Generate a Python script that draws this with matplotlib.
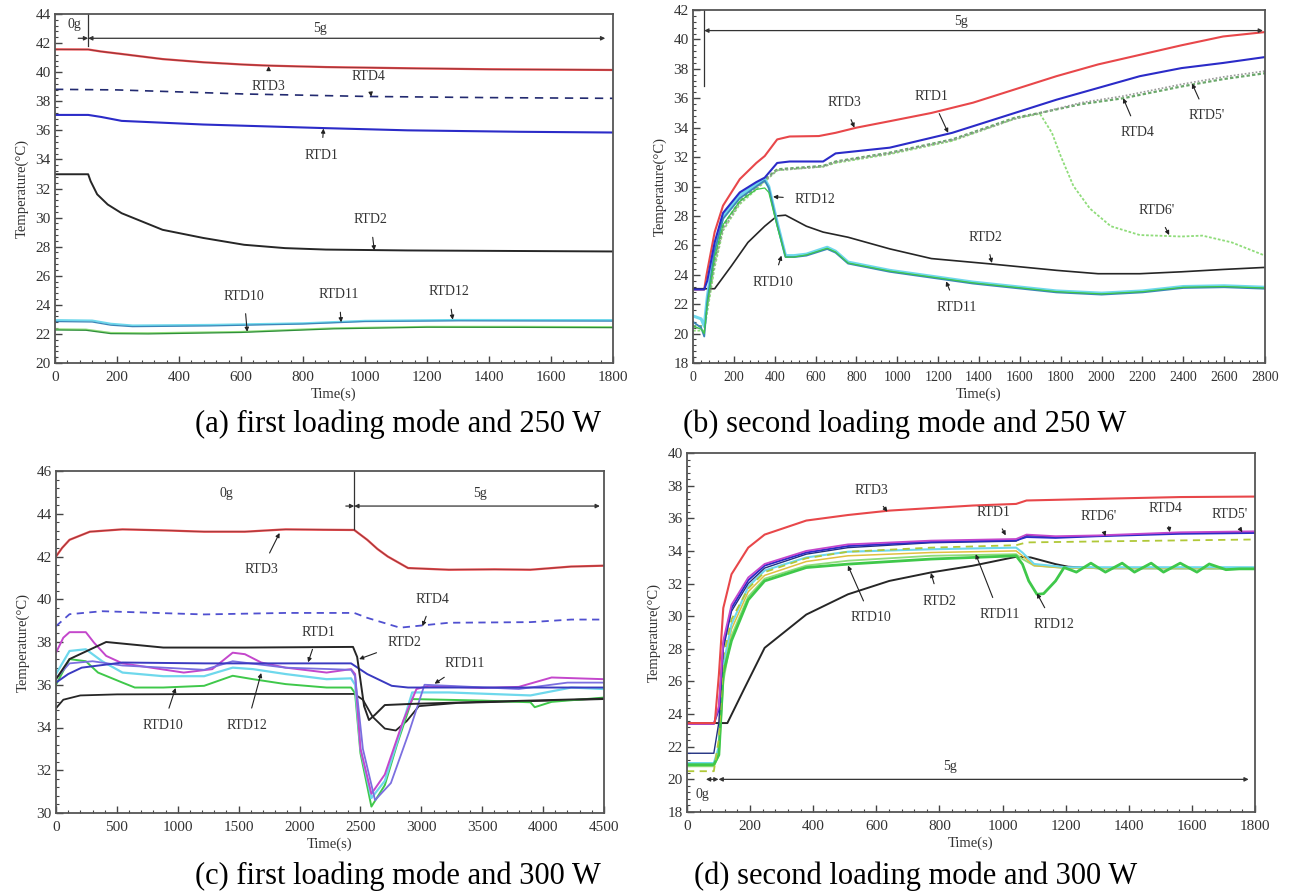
import matplotlib
matplotlib.use("Agg")
import matplotlib.pyplot as plt
from matplotlib.ticker import MultipleLocator, AutoMinorLocator

plt.rcParams['font.family'] = ['Liberation Serif', 'DejaVu Serif']

# ---------------- (a) first loading mode, 250 W ----------------
a_t_rtd3 = [0, 107, 125, 149, 215, 347, 478, 610, 689, 874, 1137, 1400, 1800]
a_rtd3 = [41.57, 41.56, 41.5, 41.42, 41.25, 40.9, 40.68, 40.52, 40.45, 40.35, 40.27, 40.2, 40.15]
a_t_rtd4 = [0, 200, 610, 1006, 1400, 1800]
a_rtd4 = [38.82, 38.78, 38.5, 38.33, 38.25, 38.2]
a_t_rtd1 = [0, 107, 149, 215, 478, 874, 1137, 1500, 1800]
a_rtd1 = [37.06, 37.06, 36.92, 36.65, 36.4, 36.15, 36.0, 35.9, 35.85]
a_t_rtd2 = [0, 107, 115, 136, 170, 215, 347, 478, 610, 742, 874, 1137, 1800]
a_rtd2 = [32.98, 32.98, 32.5, 31.6, 30.9, 30.3, 29.16, 28.6, 28.13, 27.9, 27.8, 27.74, 27.67]
a_t_low = [0, 120, 180, 250, 500, 800, 1000, 1300, 1800]
a_rtd12 = [22.95, 22.92, 22.7, 22.58, 22.62, 22.73, 22.9, 22.96, 22.95]
a_rtd11 = [22.85, 22.82, 22.6, 22.5, 22.55, 22.68, 22.85, 22.9, 22.88]
a_t_rtd10 = [0, 100, 180, 300, 600, 900, 1200, 1500, 1800]
a_rtd10 = [22.27, 22.25, 22.02, 22.0, 22.1, 22.35, 22.46, 22.45, 22.43]
a_rtd10b = [22.33, 22.31, 22.08, 22.06, 22.15, 22.4, 22.5, 22.5, 22.48]

# ---------------- (b) second loading mode, 250 W ----------------
b_t_rtd3 = [0, 55, 65, 106, 147, 229, 310, 351, 412, 473, 616, 698, 800, 963, 1167,
            1371, 1575, 1779, 1983, 2187, 2391, 2595, 2800]
b_rtd3 = [23.0, 23.0, 23.9, 26.9, 28.7, 30.5, 31.6, 32.07, 33.2, 33.4, 33.43, 33.65, 34.0,
          34.44, 35.0, 35.7, 36.6, 37.5, 38.3, 38.95, 39.6, 40.2, 40.5]
b_t_rtd1 = [0, 55, 70, 106, 147, 229, 310, 351, 412, 473, 637, 698, 963, 1269, 1575,
            1779, 1983, 2187, 2391, 2595, 2800]
b_rtd1 = [23.0, 23.0, 23.6, 26.2, 28.2, 29.6, 30.3, 30.6, 31.6, 31.7, 31.7, 32.25, 32.64,
          33.65, 35.0, 35.9, 36.7, 37.5, 38.05, 38.4, 38.8]
b_t_rtd4 = [0, 55, 70, 106, 147, 229, 310, 412, 637, 698, 963, 1269, 1575, 1698, 1900,
            2106, 2391, 2595, 2800]
b_rtd4 = [20.5, 20.5, 22.0, 25.0, 27.3, 29.0, 30.0, 31.17, 31.4, 31.7, 32.3, 33.2, 34.67,
          35.0, 35.6, 36.0, 36.8, 37.3, 37.7]
b_rtd5 = [20.4, 20.4, 21.8, 24.8, 27.1, 28.9, 29.9, 31.1, 31.35, 31.65, 32.25, 33.15, 34.6,
          35.0, 35.7, 36.15, 36.95, 37.45, 37.85]
b_t_rtd6 = [0, 55, 70, 106, 147, 229, 310, 412, 637, 698, 963, 1269, 1575, 1698, 1757,
            1800, 1862, 1943, 2045, 2187, 2391, 2494, 2637, 2800]
b_rtd6 = [20.2, 20.2, 21.5, 24.5, 27.0, 28.8, 29.8, 31.1, 31.35, 31.6, 32.2, 33.1, 34.6,
          34.95, 33.65, 32.07, 30.04, 28.5, 27.3, 26.7, 26.6, 26.66, 26.2, 25.3]
b_t_rtd2 = [0, 106, 188, 269, 351, 412, 453, 555, 637, 759, 963, 1167, 1453, 1779, 1983,
            2187, 2391, 2595, 2800]
b_rtd2 = [23.05, 23.05, 24.6, 26.2, 27.3, 28.0, 28.05, 27.3, 26.9, 26.55, 25.76, 25.1,
          24.74, 24.3, 24.07, 24.07, 24.2, 24.36, 24.5]
b_t_rtd11 = [0, 40, 55, 70, 106, 147, 229, 310, 351, 371, 412, 453, 494, 555, 657, 698,
             759, 963, 1371, 1779, 2000, 2200, 2400, 2600, 2800]
b_rtd11 = [21.2, 21.0, 20.5, 22.5, 25.8, 28.0, 29.4, 30.15, 30.5, 30.0, 27.56, 25.3, 25.3,
           25.4, 25.87, 25.6, 24.86, 24.3, 23.5, 22.9, 22.75, 22.9, 23.2, 23.25, 23.15]
b_rtd10 = [20.8, 20.4, 19.8, 22.2, 25.6, 27.8, 29.2, 30.0, 30.4, 29.9, 27.4, 25.2, 25.2,
           25.3, 25.75, 25.5, 24.76, 24.2, 23.4, 22.8, 22.65, 22.8, 23.1, 23.15, 23.05]
b_rtd12 = [20.5, 20.3, 20.0, 22.0, 25.2, 27.4, 29.0, 29.8, 29.9, 29.6, 27.3, 25.2, 25.2,
           25.35, 25.8, 25.55, 24.8, 24.25, 23.45, 22.85, 22.7, 22.85, 23.15, 23.2, 23.1]

# ---------------- (c) first loading mode, 300 W ----------------
c_t_rtd3 = [0, 50, 111, 278, 546, 900, 1216, 1551, 1886, 2200, 2449, 2556, 2640, 2724,
            2891, 3226, 3600, 3896, 4231, 4500]
c_rtd3 = [42.0, 42.4, 42.78, 43.16, 43.27, 43.22, 43.16, 43.16, 43.27, 43.25, 43.24, 42.78,
          42.35, 42.0, 41.46, 41.38, 41.4, 41.38, 41.53, 41.57]
c_t_rtd4 = [0, 111, 379, 1216, 1886, 2449, 2556, 2824, 3226, 3896, 4231, 4500]
c_rtd4 = [38.74, 39.3, 39.44, 39.29, 39.36, 39.36, 39.13, 38.67, 38.9, 38.93, 39.05, 39.05]
c_t_rtd1 = [0, 100, 211, 546, 1216, 2423, 2556, 2757, 2891, 3226, 4500]
c_rtd1 = [36.1, 36.5, 36.8, 37.04, 37.0, 37.0, 36.5, 35.95, 35.87, 35.87, 35.87]
c_t_rtd2 = [0, 111, 412, 881, 1551, 2439, 2473, 2530, 2570, 2620, 2700, 2900, 3500, 4500]
c_rtd2 = [36.26, 37.2, 38.0, 37.74, 37.74, 37.77, 37.3, 35.0, 34.35, 34.6, 35.05, 35.1,
          35.2, 35.35]
c_t_base = [0, 60, 200, 500, 1500, 2449, 2520, 2600, 2700, 2790, 2880, 2980, 3300, 4000, 4500]
c_base = [34.9, 35.3, 35.5, 35.55, 35.57, 35.57, 35.3, 34.5, 33.95, 33.86, 34.3, 35.0,
          35.15, 35.25, 35.33]
c_t_mag = [0, 60, 111, 245, 312, 412, 546, 1049, 1283, 1451, 1551, 1685, 1886, 2222, 2423,
           2456, 2500, 2590, 2700, 2850, 2960, 3060, 3500, 3800, 4070, 4500]
c_mag = [37.5, 38.2, 38.46, 38.46, 37.97, 37.35, 37.0, 36.57, 36.73, 37.5, 37.43, 37.04,
         36.8, 36.57, 36.73, 36.5, 33.0, 30.9, 31.8, 34.3, 35.8, 35.95, 35.85, 35.9, 36.34, 36.26]
c_t_cyan = [0, 111, 245, 379, 546, 881, 1216, 1451, 1618, 1886, 2222, 2423, 2456, 2500,
            2590, 2700, 2800, 2925, 3226, 3896, 4231, 4500]
c_cyan = [36.5, 37.58, 37.66, 37.1, 36.57, 36.4, 36.4, 36.8, 36.73, 36.5, 36.26, 36.3,
          36.0, 33.0, 30.7, 31.5, 33.3, 35.64, 35.64, 35.5, 35.87, 35.8]
c_t_green = [0, 111, 245, 345, 546, 647, 881, 1216, 1451, 1618, 1886, 2222, 2423, 2456,
             2500, 2590, 2700, 2800, 2925, 3500, 3896, 3931, 4070, 4500]
c_green = [36.0, 37.2, 37.1, 36.57, 36.1, 35.87, 35.87, 35.95, 36.42, 36.26, 36.03, 35.87,
           35.87, 35.6, 32.8, 30.3, 31.3, 33.2, 35.33, 35.26, 35.18, 34.95, 35.2, 35.4]
c_t_rtd11 = [0, 111, 300, 546, 1216, 1451, 1886, 2423, 2456, 2520, 2620, 2750, 2900, 3026,
             3226, 3800, 4200, 4500]
c_rtd11 = [36.3, 37.0, 37.1, 36.9, 36.7, 37.1, 36.8, 36.7, 36.4, 33.0, 30.6, 31.4, 33.8,
           36.0, 35.95, 35.8, 36.1, 36.1]

# ---------------- (d) second loading mode, 300 W ----------------
d_t_rtd3 = [0, 88, 101, 115, 141, 194, 246, 378, 510, 641, 905, 1043, 1076, 1300, 1563, 1800]
d_rtd3 = [23.45, 23.45, 26.4, 30.5, 32.57, 34.2, 35.0, 35.86, 36.2, 36.47, 36.78, 36.88,
          37.09, 37.19, 37.3, 37.33]
d_t_rtd2 = [0, 128, 180, 246, 378, 510, 641, 773, 905, 1043, 1089, 1168, 1208, 1300, 1800]
d_rtd2 = [23.45, 23.45, 25.5, 28.06, 30.1, 31.34, 32.16, 32.68, 33.09, 33.64, 33.6, 33.19,
          33.03, 32.94, 32.94]
d_t_up = [0, 85, 101, 115, 141, 194, 246, 378, 510, 773, 1043, 1076, 1168, 1300, 1563, 1800]
d_rtd1 = [23.4, 23.4, 24.5, 28.5, 30.7, 32.37, 33.2, 34.0, 34.4, 34.63, 34.73, 35.0, 34.9,
          34.95, 35.14, 35.2]
d_rtd4 = [23.4, 23.4, 24.3, 28.3, 30.5, 32.2, 33.1, 33.9, 34.3, 34.55, 34.65, 34.85, 34.8,
          34.9, 35.05, 35.1]
d_rtd5 = [21.6, 21.6, 23.5, 28.0, 30.3, 32.0, 32.95, 33.8, 34.2, 34.5, 34.6, 34.95, 34.85,
          34.92, 35.1, 35.15]
d_t_rtd6 = [0, 85, 101, 115, 141, 194, 246, 378, 510, 773, 1043, 1076, 1300, 1800]
d_rtd6 = [20.5, 20.5, 22.5, 27.5, 29.8, 31.7, 32.7, 33.55, 33.95, 34.2, 34.35, 34.52, 34.58, 34.7]
d_t_low = [0, 85, 101, 115, 141, 194, 246, 378, 510, 773, 1043, 1063, 1100, 1200, 1800]
d_rtd11 = [21.0, 21.0, 22.0, 27.0, 29.5, 31.8, 32.8, 33.6, 33.95, 34.1, 34.2, 33.9, 33.2,
           33.0, 33.0]
d_yellow = [20.9, 20.9, 21.8, 26.8, 29.2, 31.5, 32.5, 33.35, 33.7, 33.9, 34.0, 33.7, 33.1,
            32.95, 32.95]
d_rtd10 = [20.8, 20.8, 21.5, 26.0, 28.8, 31.2, 32.3, 33.1, 33.4, 33.7, 33.8, 33.5, 33.1,
           32.95, 32.9]
d_t_rtd12 = [0, 85, 101, 115, 141, 194, 246, 378, 510, 773, 1043, 1063, 1083, 1109, 1130,
             1168, 1195, 1234, 1280, 1326, 1379, 1418, 1471, 1510, 1563, 1616, 1655, 1708,
             1750, 1800]
d_rtd12 = [20.9, 20.9, 21.5, 26.5, 28.5, 31.0, 32.16, 32.98, 33.19, 33.5, 33.7, 33.19,
           32.16, 31.34, 31.38, 32.16, 32.98, 32.7, 33.25, 32.7, 33.25, 32.7, 33.25, 32.7,
           33.25, 32.7, 33.2, 32.85, 32.9, 32.9]

RED = '#e8474a'
BLUE = '#2b2bc8'
BLACK = '#262626'
CYAN = '#6ed8ec'
TEAL = '#3b86b8'
GREEN = '#3fc84a'
LGREEN = '#8fdc7a'
MAG = '#c447cc'
LAV = '#7b6fe0'

fig = plt.figure(figsize=(12.9, 8.92), dpi=100)
W, H = 1290.0, 892.0


def box(l, t, r, b):
    return [l / W, 1 - b / H, (r - l) / W, (b - t) / H]


def frame(ax, xmax, xstep, ymin, ymax, xsize=11):
    ax.set_xlim(0, xmax)
    ax.set_ylim(ymin, ymax)
    ax.xaxis.set_major_locator(MultipleLocator(xstep))
    ax.yaxis.set_major_locator(MultipleLocator(2))
    ax.xaxis.set_minor_locator(AutoMinorLocator(5))
    ax.yaxis.set_minor_locator(AutoMinorLocator(5))
    ax.tick_params(which='both', direction='in', top=False, right=False,
                   colors='#444', labelcolor='#333')
    ax.tick_params(axis='x', labelsize=xsize, pad=6)
    ax.tick_params(axis='y', labelsize=11, pad=3)
    ax.tick_params(which='major', length=5, width=1)
    ax.tick_params(which='minor', length=2.5, width=0.8)
    for s in ax.spines.values():
        s.set_color('#555')
        s.set_linewidth(1.3)
    ax.set_xlabel('Time(s)', fontsize=10.5, color='#333', labelpad=2)
    ax.set_ylabel('Temperature(\u00b0C)', fontsize=10.5, color='#333', labelpad=5)


def tag(ax, text, xy, xytext):
    ax.annotate(text, xy=xy, xytext=xytext, ha='center', va='center',
                fontsize=10, color='#333',
                arrowprops=dict(arrowstyle='-|>', color='#222', lw=0.8,
                                mutation_scale=6, shrinkA=6, shrinkB=0))


def arrow(ax, x0, x1, y, style='<|-|>'):
    ax.annotate('', xy=(x1, y), xytext=(x0, y),
                arrowprops=dict(arrowstyle=style, color='#333', lw=0.9,
                                mutation_scale=6, shrinkA=0, shrinkB=0))


# (a)
ax = fig.add_axes(box(55, 14, 613, 363))
frame(ax, 1800, 200, 20, 44)
ax.plot(a_t_rtd3, a_rtd3, color=RED, lw=1.6)
ax.plot(a_t_rtd3, a_rtd3, color=BLACK, lw=0.5, alpha=0.6)
ax.plot(a_t_rtd4, a_rtd4, color='#222a70', lw=1.2, ls=(0, (5, 4)))
ax.plot(a_t_rtd1, a_rtd1, color=BLUE, lw=1.5)
ax.plot(a_t_rtd2, a_rtd2, color=BLACK, lw=1.4)
ax.plot(a_t_low, a_rtd12, color=CYAN, lw=1.5)
ax.plot(a_t_low, a_rtd11, color=TEAL, lw=0.9)
ax.plot(a_t_rtd10, a_rtd10b, color=LGREEN, lw=1.2)
ax.plot(a_t_rtd10, a_rtd10, color='#2f8f3a', lw=0.9)
ax.axvline(107, ymin=(41.8 - 20) / 24, ymax=1, color='#333', lw=0.9)
arrow(ax, 75, 107, 42.33, '-|>')
arrow(ax, 107, 1775, 42.33)
ax.text(63, 43.25, '0g', fontsize=10, color='#333', ha='center', va='center')
ax.text(854, 43.0, '5g', fontsize=10, color='#333', ha='center', va='center')
tag(ax, 'RTD3', (689, 40.42), (689, 39.0))
tag(ax, 'RTD4', (1020, 38.32), (1012, 39.7))
tag(ax, 'RTD1', (866, 36.12), (860, 34.3))
tag(ax, 'RTD2', (1030, 27.75), (1018, 29.85))
tag(ax, 'RTD10', (620, 22.15), (610, 24.6))
tag(ax, 'RTD11', (923, 22.8), (916, 24.7))
tag(ax, 'RTD12', (1283, 22.98), (1270, 24.9))

# (b)
ax = fig.add_axes(box(693, 10, 1265, 363))
frame(ax, 2800, 200, 18, 42, xsize=10)
ax.plot(b_t_rtd3, b_rtd3, color=RED, lw=1.5)
ax.plot(b_t_rtd2, b_rtd2, color=BLACK, lw=1.2)
ax.plot(b_t_rtd6, b_rtd6, color=LGREEN, lw=1.3, ls=(0, (1.5, 1)))
ax.plot(b_t_rtd4, b_rtd4, color='#6aa86a', lw=1.6, ls=(0, (1.5, 1)))
ax.plot(b_t_rtd4, b_rtd5, color='#9a9a9a', lw=1.2, ls=(0, (1, 1.2)))
ax.plot(b_t_rtd11, b_rtd11, color=CYAN, lw=2.2)
ax.plot(b_t_rtd11, b_rtd10, color=TEAL, lw=1.3)
ax.plot(b_t_rtd11, b_rtd12, color=GREEN, lw=0.9)
ax.plot(b_t_rtd1, b_rtd1, color=BLUE, lw=1.5)
ax.axvline(55, ymin=(36.8 - 18) / 24, ymax=1, color='#333', lw=0.9)
arrow(ax, 55, 2790, 40.6)
ax.text(1310, 41.2, '5g', fontsize=10, color='#333', ha='center', va='center')
tag(ax, 'RTD3', (790, 34.0), (739, 35.7))
tag(ax, 'RTD1', (1249, 33.65), (1167, 36.1))
tag(ax, 'RTD4', (2106, 36.0), (2178, 33.65))
tag(ax, "RTD5'", (2443, 37.0), (2514, 34.8))
tag(ax, "RTD6'", (2331, 26.7), (2270, 28.35))
tag(ax, 'RTD2', (1463, 24.8), (1433, 26.55))
tag(ax, 'RTD12', (392, 29.3), (596, 29.14))
tag(ax, 'RTD10', (433, 25.3), (392, 23.5))
tag(ax, 'RTD11', (1239, 23.55), (1290, 21.8))

# (c)
ax = fig.add_axes(box(56, 471, 604, 813))
frame(ax, 4500, 500, 30, 46)
ax.plot(c_t_rtd3, c_rtd3, color=RED, lw=1.6)
ax.plot(c_t_rtd3, c_rtd3, color=BLACK, lw=0.5, alpha=0.5)
ax.plot(c_t_rtd4, c_rtd4, color='#5050d0', lw=1.3, ls=(0, (4, 3)))
ax.plot(c_t_base, c_base, color=BLACK, lw=1.3)
ax.plot(c_t_green, c_green, color=GREEN, lw=1.4)
ax.plot(c_t_cyan, c_cyan, color=CYAN, lw=1.6)
ax.plot(c_t_mag, c_mag, color=MAG, lw=1.4)
ax.plot(c_t_rtd11, c_rtd11, color=LAV, lw=1.3)
ax.plot(c_t_rtd1, c_rtd1, color='#3a3ac0', lw=1.4)
ax.plot(c_t_rtd2, c_rtd2, color=BLACK, lw=1.4)
ax.axvline(2449, ymin=(43.3 - 30) / 16, ymax=1, color='#333', lw=0.9)
arrow(ax, 2380, 2449, 44.36, '-|>')
arrow(ax, 2449, 4466, 44.36)
ax.text(1400, 44.95, '0g', fontsize=10, color='#333', ha='center', va='center')
ax.text(3478, 44.95, '5g', fontsize=10, color='#333', ha='center', va='center')
tag(ax, 'RTD3', (1836, 43.1), (1685, 41.38))
tag(ax, 'RTD4', (3009, 38.74), (3093, 40.0))
tag(ax, 'RTD1', (2070, 37.05), (2154, 38.46))
tag(ax, 'RTD2', (2489, 37.2), (2858, 37.97))
tag(ax, 'RTD11', (3109, 36.05), (3360, 37.0))
tag(ax, 'RTD10', (982, 35.85), (881, 34.1))
tag(ax, 'RTD12', (1685, 36.55), (1568, 34.1))

# (d)
ax = fig.add_axes(box(687, 453, 1255, 812))
frame(ax, 1800, 200, 18, 40)
ax.plot(d_t_rtd2, d_rtd2, color=BLACK, lw=1.4)
ax.plot(d_t_low, d_rtd10, color=LGREEN, lw=1.3)
ax.plot(d_t_low, d_yellow, color='#e0c040', lw=1.1)
ax.plot(d_t_low, d_rtd11, color=CYAN, lw=1.5)
ax.plot(d_t_rtd12, d_rtd12, color=GREEN, lw=2.0)
ax.plot(d_t_rtd6, d_rtd6, color='#b0c838', lw=1.3, ls=(0, (4, 3)))
ax.plot(d_t_up, d_rtd5, color='#203080', lw=1.0)
ax.plot(d_t_up, d_rtd4, color=BLUE, lw=1.4)
ax.plot(d_t_up, d_rtd1, color=MAG, lw=1.3)
ax.plot(d_t_rtd3, d_rtd3, color=RED, lw=1.5)
arrow(ax, 60, 100, 20.0)
arrow(ax, 100, 1780, 20.0)
ax.text(49, 19.1, '0g', fontsize=10, color='#333', ha='center', va='center')
ax.text(832, 20.8, '5g', fontsize=10, color='#333', ha='center', va='center')
tag(ax, 'RTD3', (635, 36.4), (583, 37.7))
tag(ax, 'RTD1', (1010, 34.95), (971, 36.37))
tag(ax, "RTD6'", (1326, 34.9), (1306, 36.1))
tag(ax, 'RTD4', (1530, 35.15), (1517, 36.57))
tag(ax, "RTD5'", (1760, 35.15), (1721, 36.22))
tag(ax, 'RTD2', (773, 32.65), (799, 30.93))
tag(ax, 'RTD10', (510, 33.1), (583, 29.9))
tag(ax, 'RTD11', (915, 33.8), (990, 30.1))
tag(ax, 'RTD12', (1109, 31.4), (1162, 29.5))

# captions under each panel
cap = dict(fontsize=22, ha='left', va='center', color='black')
fig.text(195 / W, 1 - 424 / H, '(a) first loading mode and 250 W', **cap)
fig.text(683 / W, 1 - 424 / H, '(b) second loading mode and 250 W', **cap)
fig.text(195 / W, 1 - 876 / H, '(c) first loading mode and 300 W', **cap)
fig.text(694 / W, 1 - 876 / H, '(d) second loading mode and 300 W', **cap)

fig.savefig('out.png', dpi=100)
